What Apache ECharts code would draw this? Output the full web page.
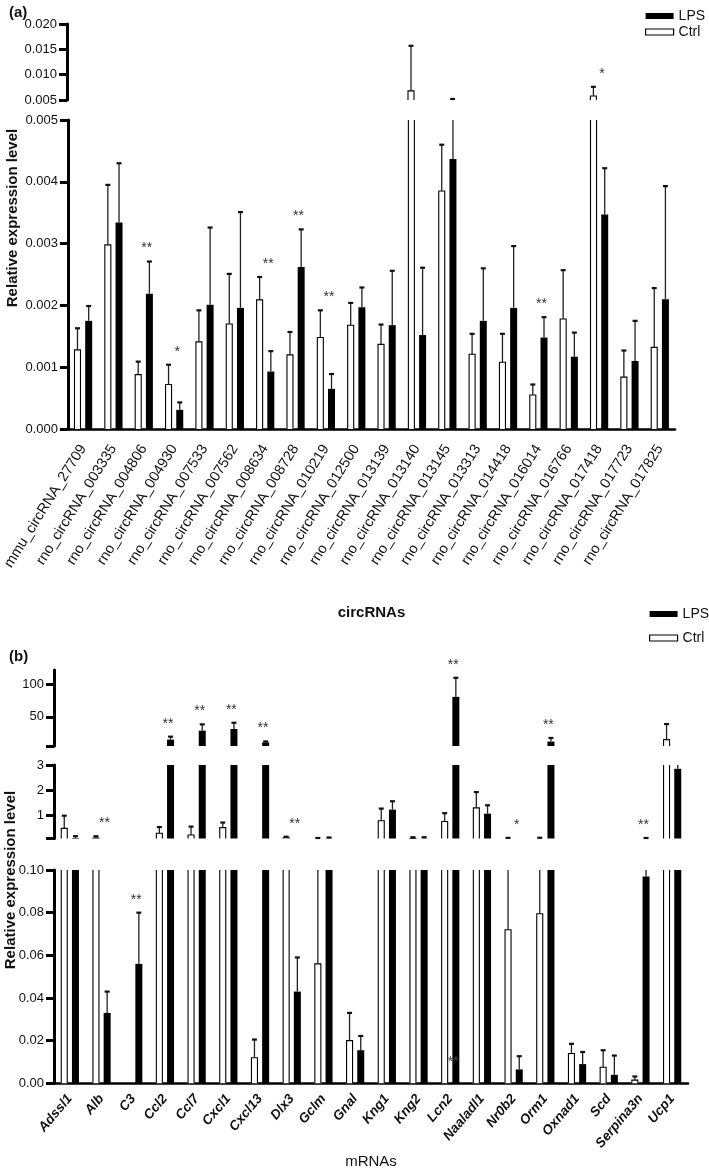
<!DOCTYPE html>
<html><head><meta charset="utf-8">
<script src="https://cdn.jsdelivr.net/npm/echarts@6/dist/echarts.min.js"></script>
<style>html,body{margin:0;padding:0;background:#fff}#c{width:709px;height:1170px}</style>
</head><body><div id="c"></div>
<script>
// ---------- Panel (a): circRNAs ----------
const circRNAs = ['mmu_circRNA_27709','rno_circRNA_003335','rno_circRNA_004806','rno_circRNA_004930','rno_circRNA_007533','rno_circRNA_007562','rno_circRNA_008634','rno_circRNA_008728','rno_circRNA_010219','rno_circRNA_012500','rno_circRNA_013139','rno_circRNA_013140','rno_circRNA_013145','rno_circRNA_013313','rno_circRNA_014418','rno_circRNA_016014','rno_circRNA_016766','rno_circRNA_017418','rno_circRNA_017723','rno_circRNA_017825'];
const ctrlA    = [0.00128,0.00298,0.00088,0.00072,0.00141,0.00170,0.00209,0.00120,0.00148,0.00168,0.00137,0.0068,0.00385,0.00121,0.00108,0.00055,0.00178,0.0058,0.00084,0.00132];
const ctrlErrA = [0.00163,0.00395,0.00109,0.00104,0.00192,0.00251,0.00246,0.00157,0.00192,0.00204,0.00169,0.0157,0.00460,0.00154,0.00154,0.00072,0.00257,0.0076,0.00127,0.00228];
const lpsA     = [0.00175,0.00334,0.00219,0.00031,0.00201,0.00196,0.00093,0.00262,0.00065,0.00197,0.00168,0.00152,0.00437,0.00175,0.00196,0.00148,0.00117,0.00347,0.00110,0.00210];
const lpsErrA  = [0.00199,0.00430,0.00271,0.00043,0.00326,0.00351,0.00126,0.00323,0.00089,0.00229,0.00256,0.00261,0.0052,0.00260,0.00296,0.00181,0.00156,0.00422,0.00175,0.00393];
const sigA     = ['','','**','*','','','**','**','**','','','','','','','**','','*','',''];

// ---------- Panel (b): mRNAs ----------
const mRNAs = ['Adssl1','Alb','C3','Ccl2','Ccl7','Cxcl1','Cxcl13','Dlx3','Gclm','Gnal','Kng1','Kng2','Lcn2','Naaladl1','Nr0b2','Orm1','Oxnad1','Scd','Serpina3n','Ucp1'];
const ctrlB    = [0.50,0.12,0,0.31,0.24,0.53,0.012,0.13,0.056,0.020,0.80,0.11,0.77,1.31,0.072,0.0795,0.014,0.0075,0.0015,14.8];
const ctrlErrB = [1.00,0.19,0,0.55,0.57,0.73,0.0205,0.17,0.12,0.033,1.28,0.15,1.10,1.93,0.125,0.13,0.0185,0.0155,0.0032,38.8];
const lpsB     = [0.12,0.033,0.056,14.8,28.6,31.2,10.5,0.043,0.11,0.0155,1.24,0.11,80.6,1.08,0.0065,11.8,0.009,0.004,0.097,2.85];
const lpsErrB  = [0.19,0.043,0.080,19.4,38.3,40.8,12.0,0.059,0.14,0.0222,1.57,0.15,110,1.41,0.0127,17.4,0.0147,0.013,0.12,3.05];
const sigB     = ['','**','**','**','**','**','**','**','','','','','**','','*','**','','','**',''];
const extraStarCat = ['Lcn2'];
const extraStarVal = [0.010];

// axis break segments / ticks
const tickBTop = [5, 50, 100], labelBTop = [50, 100];
const tickBMid = [0.1, 1, 2, 3], labelBMid = [1, 2, 3];

const FONT = '"Liberation Sans", Arial, sans-serif';
const BAR_W = 7, BAR_GAP = 0.6;

const grids = [
  {left: 67, width: 608, top: 24,  height: 76},
  {left: 67, width: 608, top: 120, height: 309},
  {left: 54, width: 634, top: 670, height: 76},
  {left: 54, width: 634, top: 765, height: 73.5},
  {left: 54, width: 634, top: 870, height: 222}
];

function yAxisBase(gi, extra) {
  return Object.assign({
    gridIndex: gi, type: 'value',
    axisLine: {show: true, lineStyle: {color: '#000', width: 3}},
    axisTick: {show: true, length: 8, lineStyle: {color: '#000', width: 3}},
    axisLabel: {margin: 10, fontSize: 13, color: '#111', fontFamily: FONT},
    splitLine: {show: false}
  }, extra);
}

const yAxes = [
  yAxisBase(0, {min: 0.005, max: 0.020, interval: 0.005, axisLabel: {margin: 10, fontSize: 13, color: '#111', fontFamily: FONT, formatter: v => v.toFixed(3)}}),
  yAxisBase(1, {min: 0, max: 0.005, interval: 0.001, axisLabel: {margin: 10, fontSize: 13, color: '#111', fontFamily: FONT, formatter: v => v.toFixed(3)}}),
  yAxisBase(2, {min: 5, max: 122,
    axisTick: {show: true, length: 8, customValues: tickBTop, lineStyle: {color: '#000', width: 3}},
    axisLabel: {margin: 10, fontSize: 13, color: '#111', fontFamily: FONT, customValues: labelBTop, formatter: v => String(v)}}),
  yAxisBase(3, {min: 0.1, max: 3,
    axisTick: {show: true, length: 8, customValues: tickBMid, lineStyle: {color: '#000', width: 3}},
    axisLabel: {margin: 10, fontSize: 13, color: '#111', fontFamily: FONT, customValues: labelBMid, formatter: v => String(v)}}),
  yAxisBase(4, {min: 0, max: 0.1, interval: 0.02, axisLabel: {margin: 10, fontSize: 13, color: '#111', fontFamily: FONT, formatter: v => v.toFixed(2)}})
];

const xAxes = [
  {gridIndex: 0, type: 'category', data: circRNAs, show: false},
  {gridIndex: 1, type: 'category', data: circRNAs,
    axisLine: {lineStyle: {color: '#000', width: 2.5}},
    axisTick: {alignWithLabel: true, length: 13, lineStyle: {color: '#000', width: 2.5}},
    axisLabel: {interval: 0, rotate: 58, margin: 17, fontSize: 14.5, color: '#111', fontFamily: FONT},
    name: 'circRNAs', nameLocation: 'middle', nameGap: 176,
    nameTextStyle: {fontSize: 15, fontWeight: 'bold', color: '#111', fontFamily: FONT}},
  {gridIndex: 2, type: 'category', data: mRNAs, show: false},
  {gridIndex: 3, type: 'category', data: mRNAs, show: false},
  {gridIndex: 4, type: 'category', data: mRNAs,
    axisLine: {lineStyle: {color: '#000', width: 2.5}},
    axisTick: {alignWithLabel: true, length: 10, lineStyle: {color: '#000', width: 2.5}},
    axisLabel: {interval: 0, rotate: 50, margin: 13, fontSize: 13.5, fontWeight: 'bold', fontStyle: 'italic', color: '#111', fontFamily: FONT},
    name: 'mRNAs', nameLocation: 'middle', nameGap: 58,
    nameTextStyle: {fontSize: 15, color: '#111', fontFamily: FONT}}
];

function makeRender(ctrl, ctrlErr, lps, lpsErr, sig) {
  return function (params, api) {
    const i = api.value(0);
    const cs = params.coordSys;
    const top = cs.y, bot = cs.y + cs.height;
    const cx = api.coord([i, 0])[0];
    const off = BAR_W * (1 + BAR_GAP) / 2;
    const yOf = v => api.coord([i, v])[1];
    const base = Math.min(yOf(0), bot);
    const kids = [];
    const line = (pts, w, c) => kids.push({type: 'polyline', shape: {points: pts},
      style: {stroke: c || '#000', lineWidth: w, fill: null}});
    const xc = cx - off, x0 = xc - BAR_W / 2 + 0.5, x1 = xc + BAR_W / 2 - 0.5;
    if (ctrl[i] > 0) {
      const yc = yOf(ctrl[i]);
      if (yc < bot) {
        if (yc >= top) line([[x0, base], [x0, yc], [x1, yc], [x1, base]], 1.1);
        else { line([[x0, base], [x0, top]], 1.1); line([[x1, base], [x1, top]], 1.1); }
      }
    }
    [[xc, ctrl[i], ctrlErr[i]], [cx + off, lps[i], lpsErr[i]]].forEach(function (d) {
      const x = d[0], v = d[1], e = d[2];
      if (!(e > v)) return;
      const yv = yOf(v), ye = yOf(e);
      const y1 = Math.min(yv, bot), y2 = Math.max(ye, top);
      if (y2 < y1) line([[x, y1], [x, y2]], 1.3, '#222');
      if (ye >= top - 0.5 && ye <= bot) line([[x - 2.5, ye], [x + 2.5, ye]], 2.2, '#111');
    });
    if (sig[i]) {
      const ya = yOf(Math.max(ctrlErr[i], lpsErr[i]));
      if (ya >= top && ya <= bot) kids.push({type: 'text', x: cx + 3, y: ya - 6,
        style: {text: sig[i], textAlign: 'center', textVerticalAlign: 'bottom', fill: '#333', font: '14px ' + FONT}});
    }
    return {type: 'group', children: kids};
  };
}

const series = [];
function addPanel(gi, cats, ctrl, ctrlErr, lps, lpsErr, sig) {
  series.push({name: 'Ctrl', type: 'bar', xAxisIndex: gi, yAxisIndex: gi, data: ctrl,
    barWidth: BAR_W, barGap: (BAR_GAP * 100) + '%', itemStyle: {color: '#fff'}, clip: true, z: 2});
  series.push({name: 'LPS', type: 'bar', xAxisIndex: gi, yAxisIndex: gi, data: lps,
    barWidth: BAR_W, barGap: (BAR_GAP * 100) + '%', itemStyle: {color: '#000'}, clip: true, z: 2});
  series.push({name: 'marks' + gi, type: 'custom', xAxisIndex: gi, yAxisIndex: gi,
    data: cats.map((c, i) => [i, 0]), renderItem: makeRender(ctrl, ctrlErr, lps, lpsErr, sig), z: 3});
}
addPanel(0, circRNAs, ctrlA, ctrlErrA, lpsA, lpsErrA, sigA);
addPanel(1, circRNAs, ctrlA, ctrlErrA, lpsA, lpsErrA, sigA);
addPanel(2, mRNAs, ctrlB, ctrlErrB, lpsB, lpsErrB, sigB);
addPanel(3, mRNAs, ctrlB, ctrlErrB, lpsB, lpsErrB, sigB);
addPanel(4, mRNAs, ctrlB, ctrlErrB, lpsB, lpsErrB, sigB);

series.push({name: 'extraStars', type: 'custom', xAxisIndex: 4, yAxisIndex: 4,
  data: extraStarCat.map((c, k) => [mRNAs.indexOf(c), extraStarVal[k]]),
  renderItem: function (params, api) {
    const p = api.coord([api.value(0), api.value(1)]);
    return {type: 'text', x: p[0] + 3, y: p[1], style: {text: '**', textAlign: 'center', textVerticalAlign: 'middle', fill: '#444', font: '14px ' + FONT}};
  }, z: 4});

const legendBase = {
  orient: 'vertical', icon: 'rect', itemWidth: 28, itemHeight: 6,
  textStyle: {fontSize: 14, color: '#111', fontFamily: FONT},
  data: ['LPS', {name: 'Ctrl', itemStyle: {color: '#fff', borderColor: '#000', borderWidth: 1.2}}],
  selectedMode: false
};

const option = {
  animation: false,
  backgroundColor: '#fff',
  textStyle: {fontFamily: FONT},
  title: [
    {text: '(a)', left: 4, top: 0, textStyle: {fontSize: 15, fontWeight: 'bold', color: '#111', fontFamily: FONT}},
    {text: '(b)', left: 4, top: 644, textStyle: {fontSize: 15, fontWeight: 'bold', color: '#111', fontFamily: FONT}}
  ],
  legend: [
    Object.assign({}, legendBase, {left: 640, top: 4, itemGap: 2}),
    Object.assign({}, legendBase, {left: 644, top: 602, itemGap: 10})
  ],
  grid: grids,
  xAxis: xAxes,
  yAxis: yAxes,
  series: series,
  graphic: [
    {type: 'text', x: 13, y: 218, rotation: Math.PI / 2,
      style: {text: 'Relative expression level', font: 'bold 15px ' + FONT, fill: '#111', textAlign: 'center', textVerticalAlign: 'middle'}},
    {type: 'text', x: 11, y: 880, rotation: Math.PI / 2,
      style: {text: 'Relative expression level', font: 'bold 15px ' + FONT, fill: '#111', textAlign: 'center', textVerticalAlign: 'middle'}}
  ]
};

echarts.init(document.getElementById('c'), null, {renderer: 'canvas'}).setOption(option);
</script>
</body></html>
